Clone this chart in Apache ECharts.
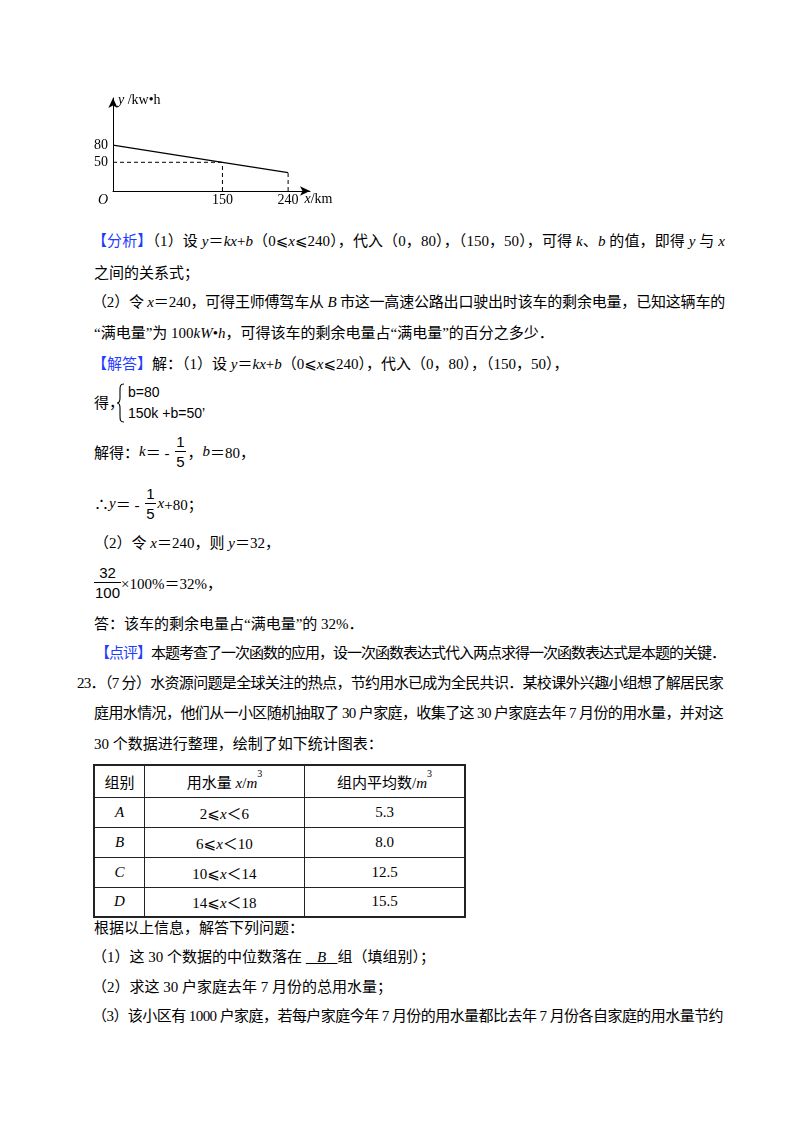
<!DOCTYPE html>
<html>
<head>
<meta charset="utf-8">
<script src="https://cdn.jsdelivr.net/npm/echarts@6.0.0/dist/echarts.min.js"></script>
<style>
  html, body { margin:0; padding:0; background:#fff; }
  body { width:800px; height:1132px; position:relative; overflow:hidden;
         font-family:"Liberation Serif","Noto Sans CJK SC","DejaVu Serif","DejaVu Sans",serif;
         font-size:15px; color:#000; }
  .ln { position:absolute; white-space:nowrap; line-height:20px; height:20px; }
  .j { text-align:justify; text-align-last:justify; }
  .blue { color:#1f3cff; }
  .row { position:absolute; display:flex; align-items:center; white-space:nowrap; }
  .frac { display:inline-flex; flex-direction:column; align-items:center;
          font-family:"Liberation Sans","DejaVu Sans",sans-serif; font-size:15px; line-height:19px; margin:0 2px; }
  .frac .n { align-self:stretch; text-align:center; border-bottom:1px solid #000; padding:0 1px; }
  .frac .d { text-align:center; padding:0 1px; }
  .sans { font-family:"Liberation Sans","DejaVu Sans",sans-serif; font-size:14px; }
  #chart { position:absolute; left:60px; top:85px; width:300px; height:130px; }
  table.t { position:absolute; left:93px; top:764px; border-collapse:collapse; border:2px solid #222; }
  table.t td { border:1px solid #222; text-align:center; padding:0; font-size:15px; }
  sup { font-size:10px; vertical-align:top; position:relative; top:-3px; }
</style>
</head>
<body>
<div id="chart"></div>

<div class="ln j" style="top:231px;left:92px;width:633px"><span class="blue">【分析】</span>（1）设 <i>y</i>＝<i>kx</i>+<i>b</i>（0⩽<i>x</i>⩽240），代入（0，80），（150，50），可得 <i>k</i>、<i>b</i> 的值，即得 <i>y</i> 与 <i>x</i></div>
<div class="ln" style="top:263px;left:94px">之间的关系式；</div>
<div class="ln j" style="top:292px;left:92px;width:633px">（2）令 <i>x</i>＝240，可得王师傅驾车从 <i>B</i> 市这一高速公路出口驶出时该车的剩余电量，已知这辆车的</div>
<div class="ln" style="top:323px;left:94px">“满电量”为 100<i>kW</i>•<i>h</i>，可得该车的剩余电量占“满电量”的百分之多少．</div>
<div class="ln" style="top:354px;left:92px"><span class="blue">【解答】</span>解：（1）设 <i>y</i>＝<i>kx</i>+<i>b</i>（0⩽<i>x</i>⩽240），代入（0，80），（150，50），</div>

<div class="ln" style="top:393px;left:94px">得，</div>
<svg style="position:absolute;left:116px;top:383px" width="10" height="40" viewBox="0 0 10 40">
  <path d="M8 1 C4 1 4 3 4 8 L4 15 C4 18 3 20 1 20 C3 20 4 22 4 25 L4 32 C4 37 4 39 8 39" fill="none" stroke="#000" stroke-width="1.1"/>
</svg>
<div class="ln sans" style="top:382px;left:128px">b=80</div>
<div class="ln sans" style="top:403px;left:128px">150k +b=50’</div>

<div class="row" style="top:429px;left:94px;height:44px">解得：<i>k</i>＝&nbsp;-&nbsp;<span class="frac"><span class="n">1</span><span class="d">5</span></span>，<i>b</i>＝80，</div>
<div class="row" style="top:481px;left:94px;height:44px">∴<i>y</i>＝&nbsp;-&nbsp;<span class="frac"><span class="n">1</span><span class="d">5</span></span><i>x</i>+80；</div>
<div class="ln" style="top:533px;left:94px">（2）令 <i>x</i>＝240，则 <i>y</i>＝32，</div>
<div class="row" style="top:560px;left:94px;height:44px"><span class="frac" style="margin:0"><span class="n">32</span><span class="d">100</span></span>×100%＝32%，</div>
<div class="ln" style="top:614px;left:94px">答：该车的剩余电量占“满电量”的 32%．</div>
<div class="ln j" style="top:643px;left:95px;width:630px"><span class="blue">【点评】</span>本题考查了一次函数的应用，设一次函数表达式代入两点求得一次函数表达式是本题的关键．</div>
<div class="ln j" style="top:673px;left:77px;width:646px">23．（7 分）水资源问题是全球关注的热点，节约用水已成为全民共识．某校课外兴趣小组想了解居民家</div>
<div class="ln j" style="top:703px;left:94px;width:629px">庭用水情况，他们从一小区随机抽取了 30 户家庭，收集了这 30 户家庭去年 7 月份的用水量，并对这</div>
<div class="ln" style="top:734px;left:94px">30 个数据进行整理，绘制了如下统计图表：</div>

<table class="t" id="tbl"></table>

<div class="ln" style="top:918px;left:94px">根据以上信息，解答下列问题：</div>
<div class="ln" style="top:947px;left:92px">（1）这 30 个数据的中位数落在 <span style="text-decoration:underline">&nbsp;&nbsp;&nbsp;<i>B</i>&nbsp;&nbsp;&nbsp;</span>组（填组别）；</div>
<div class="ln" style="top:977px;left:92px">（2）求这 30 户家庭去年 7 月份的总用水量；</div>
<div class="ln j" style="top:1006px;left:92px;width:631px">（3）该小区有 1000 户家庭，若每户家庭今年 7 月份的用水量都比去年 7 月份各自家庭的用水量节约</div>

<script>
// ---- chart data ----
const distanceKm = [0, 150, 240];
const chargeKwh = [80, 50, 32];
const xTickValues = [0, 150, 240];
const yTickValues = [50, 80];

// ---- table data ----
const groupNames = ['A', 'B', 'C', 'D'];
const rangeLow = [2, 6, 10, 14];
const rangeHigh = [6, 10, 14, 18];
const groupMeans = [5.3, 8.0, 12.5, 15.5];

// fit justified lines that are wider than their box
document.querySelectorAll('.j').forEach(el => {
  const w = parseFloat(el.style.width);
  const r = document.createRange();
  r.selectNodeContents(el);
  const nat = r.getBoundingClientRect().width;
  if (nat > w) {
    const n = el.textContent.length;
    el.style.letterSpacing = ((w - nat - 2) / n).toFixed(3) + 'px';
  }
});

// build table
(function () {
  const tbl = document.getElementById('tbl');
  let html = '<tr style="height:32px"><td style="width:49px">组别</td>' +
    '<td style="width:159px">用水量 <i>x</i>/<i>m</i><sup>3</sup></td>' +
    '<td style="width:159px">组内平均数/<i>m</i><sup>3</sup></td></tr>';
  for (let i = 0; i < groupNames.length; i++) {
    html += '<tr style="height:30px"><td><i>' + groupNames[i] + '</i></td>' +
      '<td>' + rangeLow[i] + '⩽<i>x</i>＜' + rangeHigh[i] + '</td>' +
      '<td>' + groupMeans[i].toFixed(1) + '</td></tr>';
  }
  tbl.innerHTML = html;
})();

// build chart
const F = 'Liberation Serif';
const mainLine = distanceKm.map((x, i) => [x, chargeKwh[i]]);
const guides = [
  [[0, chargeKwh[1]], [distanceKm[1], chargeKwh[1]]],
  [[distanceKm[1], 0], [distanceKm[1], chargeKwh[1]]],
  [[distanceKm[2], 0], [distanceKm[2], chargeKwh[2]]]
];

const chart = echarts.init(document.getElementById('chart'), null, { renderer: 'canvas' });
const axisLine = {
  show: true, onZero: false,
  symbol: ['none', 'arrow'], symbolSize: [7, 10],
  lineStyle: { color: '#000', width: 1 }
};
chart.setOption({
  animation: false,
  grid: { left: 53, top: 13, right: 50, bottom: 24 },
  xAxis: {
    type: 'value', min: 0, max: 270,
    axisLine: axisLine,
    axisTick: { show: false },
    splitLine: { show: false },
    axisLabel: {
      customValues: xTickValues, margin: 2, color: '#000', fontFamily: F, fontSize: 14,
      formatter: v => v === 0 ? '{o|O}' : String(v),
      rich: { o: { fontStyle: 'italic', fontFamily: F, fontSize: 14, color: '#000', padding: [0, 20, 0, 0] } }
    },
    name: '{i|x}/km', nameLocation: 'end', nameGap: -8,
    nameTextStyle: {
      align: 'left', verticalAlign: 'top', padding: [1, 0, 0, 0],
      color: '#000', fontFamily: F, fontSize: 14,
      rich: { i: { fontStyle: 'italic', fontFamily: F, fontSize: 14, color: '#000' } }
    }
  },
  yAxis: {
    type: 'value', min: 0, max: 162,
    axisLine: axisLine,
    axisTick: { show: false },
    splitLine: { show: false },
    axisLabel: { customValues: yTickValues, margin: 5, color: '#000', fontFamily: F, fontSize: 14 },
    name: '{i|y} /kw•h', nameLocation: 'end', nameGap: -2,
    nameTextStyle: {
      align: 'left', verticalAlign: 'middle', padding: [0, 0, 0, 5],
      color: '#000', fontFamily: F, fontSize: 14,
      rich: { i: { fontStyle: 'italic', fontFamily: F, fontSize: 14, color: '#000' } }
    }
  },
  series: [
    { type: 'line', data: mainLine, symbol: 'none', silent: true,
      lineStyle: { color: '#000', width: 1.2 } }
  ].concat(guides.map(g => ({
    type: 'line', data: g, symbol: 'none', silent: true,
    lineStyle: { color: '#000', width: 1, type: [4, 3] }
  })))
});
</script>
</body>
</html>
